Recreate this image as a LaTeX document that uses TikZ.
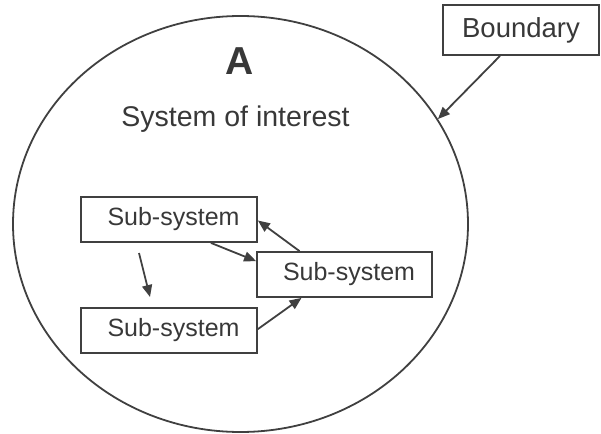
\documentclass[tikz,border=0pt]{standalone}
\usepackage{fontspec}
\setmainfont{Liberation Sans}
\usepackage{tikz}
\usetikzlibrary{shapes.geometric, arrows.meta}

\begin{document}
\begin{tikzpicture}[x=1pt, y=-1pt,
    line width=1.8pt, draw=black!75, text=black!78,
    subbox/.style={draw, rectangle, minimum width=176pt, minimum height=45pt, inner sep=0pt, font=\fontsize{25}{28}\selectfont},
    flow/.style={-{Triangle[length=12pt, width=10pt]}}]
    \useasboundingbox (0,0) rectangle (601,433);

    % The system boundary
    \node[draw, ellipse, minimum width=455pt, minimum height=416pt, inner sep=0pt] (sys) at (240.5,224) {};
    \node[font=\fontsize{39}{44}\bfseries] (lblA) at (240,61) {A};
    \node[font=\fontsize{28.5}{32}\selectfont] (interest) at (235.5,119) {System of interest};

    % Sub-systems inside the boundary
    \node[subbox] (sub1) at (169,219.5) {\hspace*{9pt}Sub-system};
    \node[subbox, minimum width=175pt] (sub2) at (344.5,274.5) {\hspace*{9pt}Sub-system};
    \node[subbox] (sub3) at (169,330.5) {\hspace*{9pt}Sub-system};

    % Label box outside
    \node[draw, rectangle, minimum width=156pt, minimum height=50pt, inner sep=0pt, font=\fontsize{27.5}{30}\selectfont] (bnd) at (521,30) {Boundary};

    % Arrows
    \draw[flow] ([xshift=-21pt]bnd.south) -- (sys.28.8);
    \draw[flow] ([xshift=-47pt]sub1.south east) -- ([yshift=-10pt]sub2.north west);
    \draw[flow] ([xshift=-45pt]sub2.north) -- ([yshift=-1pt]sub1.east);
    \coordinate (dtop) at (139,253);
    \coordinate (dbot) at (150,297);
    \draw[flow] (dtop) -- (dbot);
    \draw[flow] ([yshift=-22pt]sub3.north east) -- ([xshift=-43pt]sub2.south);
\end{tikzpicture}
\end{document}
